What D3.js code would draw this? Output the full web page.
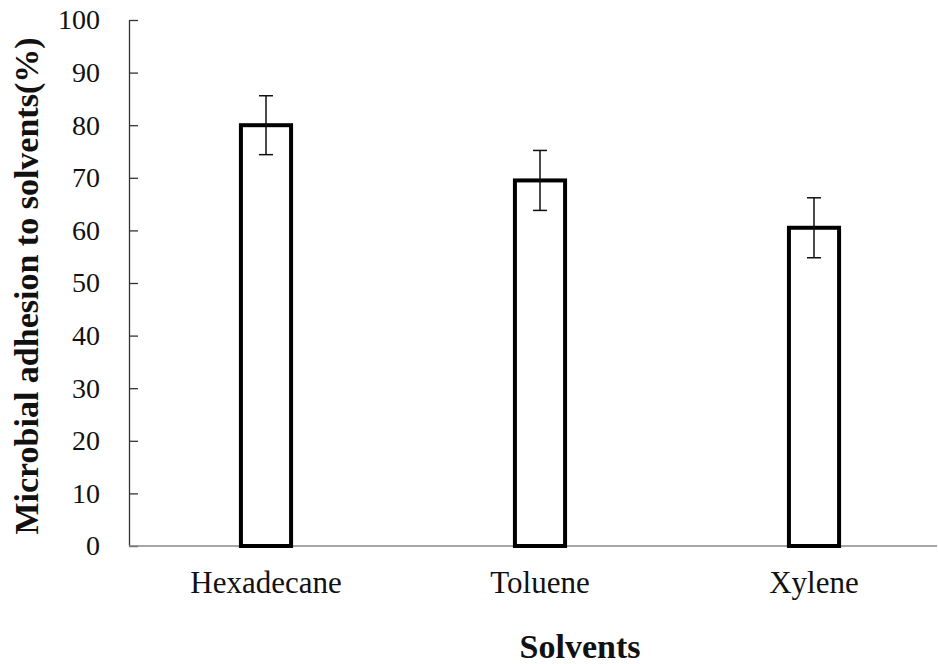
<!DOCTYPE html>
<html>
<head>
<meta charset="utf-8">
<script src="https://cdn.jsdelivr.net/npm/d3@7"></script>
<style>
  html, body { margin: 0; padding: 0; background: #fff; }
  svg { display: block; }
</style>
</head>
<body>
<svg id="chart" width="938" height="664"></svg>
<script>
// Microbial adhesion to hydrocarbons (%), mean with standard deviation
const solvents = ["Hexadecane", "Toluene", "Xylene"];
const adhesion = [80.0, 69.5, 60.5];
const errors = [5.6, 5.7, 5.7];
const yTicks = [0, 10, 20, 30, 40, 50, 60, 70, 80, 90, 100];

const svg = d3.select("#chart");
const plotLeft = 129, plotTop = 20, plotBottom = 546, axisRight = 937;

const x = d3.scaleBand().domain(solvents).range([plotLeft, plotLeft + 822]).padding(0);
const y = d3.scaleLinear().domain([0, 100]).range([plotBottom, plotTop]);
const barW = x.bandwidth() * 0.183;

const serif = "'Liberation Serif', 'Times New Roman', serif";

// y axis with inward ticks
const yAxis = svg.append("g")
  .attr("transform", `translate(${plotLeft},0)`)
  .call(d3.axisLeft(y).tickValues(yTicks).tickSize(-9).tickSizeOuter(0).tickPadding(29));
yAxis.select(".domain").attr("stroke", "#333").attr("stroke-width", 1.3);
yAxis.selectAll(".tick line").attr("stroke", "#333").attr("stroke-width", 1.3);
yAxis.selectAll(".tick text")
  .attr("font-family", serif).attr("font-size", 28).attr("fill", "#111");

// x baseline
svg.append("line")
  .attr("x1", plotLeft).attr("x2", axisRight)
  .attr("y1", y(0)).attr("y2", y(0))
  .attr("stroke", "#888").attr("stroke-width", 1.3);

// bars
const data = solvents.map((s, i) => ({ s, v: adhesion[i], e: errors[i] }));
svg.append("g").selectAll("rect").data(data).join("rect")
  .attr("x", d => x(d.s) + x.bandwidth() / 2 - barW / 2)
  .attr("y", d => y(d.v))
  .attr("width", barW)
  .attr("height", d => y(0) - y(d.v))
  .attr("fill", "#fff")
  .attr("stroke", "#000")
  .attr("stroke-width", 4);

// error bars
const capW = 14;
const eb = svg.append("g").selectAll("g").data(data).join("g")
  .attr("stroke", "#111").attr("stroke-width", 1.5);
eb.append("line")
  .attr("x1", d => x(d.s) + x.bandwidth() / 2).attr("x2", d => x(d.s) + x.bandwidth() / 2)
  .attr("y1", d => y(d.v + d.e)).attr("y2", d => y(d.v - d.e));
eb.append("line")
  .attr("x1", d => x(d.s) + x.bandwidth() / 2 - capW / 2).attr("x2", d => x(d.s) + x.bandwidth() / 2 + capW / 2)
  .attr("y1", d => y(d.v + d.e)).attr("y2", d => y(d.v + d.e));
eb.append("line")
  .attr("x1", d => x(d.s) + x.bandwidth() / 2 - capW / 2).attr("x2", d => x(d.s) + x.bandwidth() / 2 + capW / 2)
  .attr("y1", d => y(d.v - d.e)).attr("y2", d => y(d.v - d.e));

// category labels
svg.append("g").selectAll("text").data(solvents).join("text")
  .attr("x", d => x(d) + x.bandwidth() / 2)
  .attr("y", 593)
  .attr("text-anchor", "middle")
  .attr("font-family", serif).attr("font-size", 31).attr("fill", "#111")
  .text(d => d);

// axis titles
svg.append("text")
  .attr("x", 580).attr("y", 658)
  .attr("text-anchor", "middle")
  .attr("font-family", serif).attr("font-size", 34).attr("font-weight", "bold").attr("fill", "#111")
  .text("Solvents");

svg.append("text")
  .attr("transform", "translate(38,286) rotate(-90)")
  .attr("text-anchor", "middle")
  .attr("font-family", serif).attr("font-size", 34).attr("font-weight", "bold").attr("fill", "#111")
  .text("Microbial adhesion to solvents(%)");
</script>
</body>
</html>
